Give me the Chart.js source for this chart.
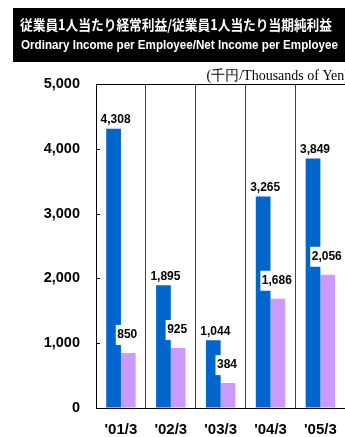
<!DOCTYPE html>
<html>
<head>
<meta charset="utf-8">
<script src="https://cdn.jsdelivr.net/npm/chart.js@4/dist/chart.umd.min.js"></script>
<style>
  html, body { margin: 0; padding: 0; background: #fff; overflow: hidden; }
  #wrap { width: 350px; height: 437px; }
</style>
</head>
<body>
<div id="wrap"><canvas id="myChart" width="350" height="437"></canvas></div>
<script>
const years = ["'01/3", "'02/3", "'03/3", "'04/3", "'05/3"];
const ordinaryIncome = [4308, 1895, 1044, 3265, 3849];
const netIncome = [850, 925, 384, 1686, 2056];
const yTicks = [0, 1000, 2000, 3000, 4000, 5000];

const titleJa = "従業員1人当たり経常利益/従業員1人当たり当期純利益";
const titleEn = "Ordinary Income per Employee/Net Income per Employee";
const unitText = "(千円/Thousands of Yen)";

const labelFont = "bold 12px 'Liberation Sans', Arial, sans-serif";

// black header box + unit note
const header = {
  id: "header",
  beforeDraw(chart) {
    const ctx = chart.ctx;
    ctx.save();
    ctx.fillStyle = "#000";
    ctx.fillRect(13, 8, 340, 54);
    ctx.fillStyle = "#fff";
    ctx.textBaseline = "middle";
    ctx.textAlign = "left";
    ctx.font = "bold 14px 'Noto Sans CJK JP', sans-serif";
    ctx.fillText(titleJa, 20, 25, 312);
    ctx.font = "bold 13px 'Liberation Sans', Arial, sans-serif";
    ctx.fillText(titleEn, 21, 45, 317);

    ctx.fillStyle = "#000";
    ctx.textAlign = "right";
    ctx.font = "14px 'Liberation Serif', 'Times New Roman', serif";
    ctx.fillText(unitText, 349, 76);
    ctx.restore();
  }
};

// small inward ticks on the value axis
const innerTicks = {
  id: "innerTicks",
  afterDraw(chart) {
    const ctx = chart.ctx;
    const y = chart.scales.y;
    const left = chart.chartArea.left;
    ctx.save();
    ctx.strokeStyle = "#000";
    ctx.lineWidth = 1;
    yTicks.forEach((v) => {
      const py = Math.round(y.getPixelForValue(v)) + 0.5;
      ctx.beginPath();
      ctx.moveTo(left, py);
      ctx.lineTo(left + 4, py);
      ctx.stroke();
    });
    ctx.restore();
  }
};

// value labels over the bars
const barLabels = {
  id: "barLabels",
  afterDatasetsDraw(chart) {
    const ctx = chart.ctx;
    ctx.save();
    ctx.font = labelFont;
    ctx.textAlign = "center";
    ctx.textBaseline = "middle";

    chart.getDatasetMeta(0).data.forEach((bar, i) => {
      ctx.fillStyle = "#000";
      ctx.fillText(ordinaryIncome[i].toLocaleString("en-US"), bar.x + 2, bar.y - 9);
    });

    chart.getDatasetMeta(1).data.forEach((bar, i) => {
      const txt = netIncome[i].toLocaleString("en-US");
      const w = ctx.measureText(txt).width + 3;
      const cx = bar.x - 1;
      const cy = bar.y - 18;
      ctx.fillStyle = "#fff";
      ctx.fillRect(cx - w / 2, cy - 10, w, 20);
      ctx.fillStyle = "#000";
      ctx.fillText(txt, cx, cy);
    });
    ctx.restore();
  }
};

const myChart = new Chart("myChart", {
  type: "bar",
  data: {
    labels: years,
    datasets: [
      {
        label: "Ordinary Income per Employee",
        data: ordinaryIncome,
        backgroundColor: "#0066cc",
        categoryPercentage: 0.59,
        barPercentage: 1.0,
      },
      {
        label: "Net Income per Employee",
        data: netIncome,
        backgroundColor: "#cc99ff",
        categoryPercentage: 0.59,
        barPercentage: 1.0,
      },
    ],
  },
  options: {
    responsive: false,
    animation: false,
    layout: { padding: { top: 84, right: 2.5, left: 0, bottom: 0 } },
    plugins: {
      legend: { display: false },
      tooltip: { enabled: false },
    },
    scales: {
      x: {
        grid: {
          offset: true,
          drawTicks: false,
          color: "#444",
          lineWidth: 1,
        },
        border: { color: "#000", width: 1 },
        ticks: {
          color: "#000",
          padding: 13,
          font: { family: "'Liberation Sans', Arial, sans-serif", size: 15, weight: "bold" },
        },
        afterFit(scale) { scale.height = 29; },
      },
      y: {
        min: 0,
        max: 5000,
        afterBuildTicks(scale) { scale.ticks = yTicks.map((v) => ({ value: v })); },
        grid: {
          drawTicks: false,
          color: (c) => (c.tick && c.tick.value === 5000 ? "#000" : "rgba(0,0,0,0)"),
        },
        border: { color: "#000", width: 1 },
        ticks: {
          color: "#000",
          padding: 16,
          font: { family: "'Liberation Sans', Arial, sans-serif", size: 14.5, weight: "bold" },
          callback: (v) => v.toLocaleString("en-US"),
        },
        afterFit(scale) { scale.width = 96; },
      },
    },
  },
  plugins: [header, innerTicks, barLabels],
});
</script>
</body>
</html>
